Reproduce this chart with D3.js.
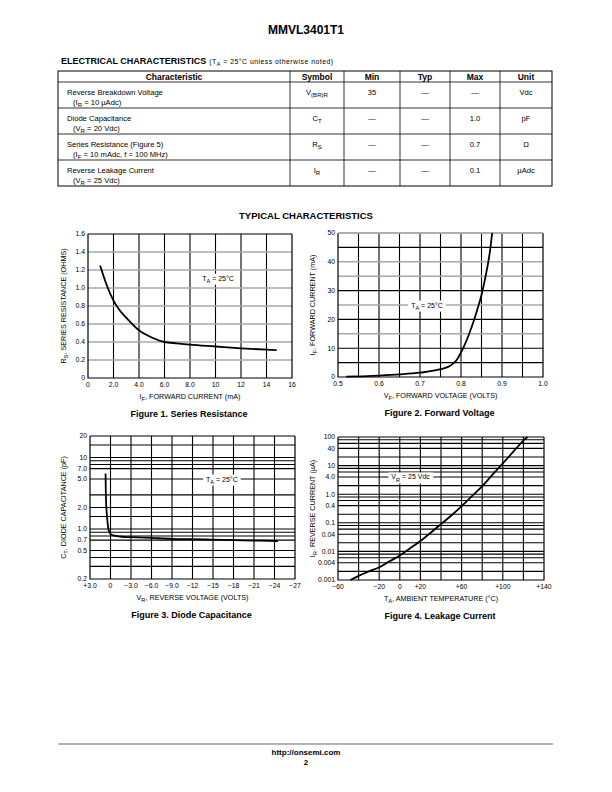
<!DOCTYPE html>
<html><head><meta charset="utf-8">
<script src="https://cdn.jsdelivr.net/npm/d3@7"></script>
<style>
body{margin:0;background:#fff}
svg{display:block}
text{font-family:"Liberation Sans",Arial,Helvetica,sans-serif;fill:#000}
.nar{font-family:"Liberation Sans Narrow","Liberation Sans",Arial,sans-serif}
</style>
</head><body>
<svg id="page" width="612" height="792"></svg>
<script>
// ---------------- DATA ----------------
const pageTitle = "MMVL3401T1";
const tableColumns = ["Characteristic", "Symbol", "Min", "Typ", "Max", "Unit"];
const tableCharacteristic = ["Reverse Breakdown Voltage", "Diode Capacitance", "Series Resistance (Figure 5)", "Reverse Leakage Current"];
const tableCondition = ["(I_{R} = 10 µAdc)", "(V_{R} = 20 Vdc)", "(I_{F} = 10 mAdc, f = 100 MHz)", "(V_{R} = 25 Vdc)"];
const tableSymbol = ["V_{(BR)R}", "C_{T}", "R_{S}", "I_{R}"];
const tableMin = ["35", "—", "—", "—"];
const tableTyp = ["—", "—", "—", "—"];
const tableMax = ["—", "1.0", "0.7", "0.1"];
const tableUnit = ["Vdc", "pF", "Ω", "µAdc"];

// Figure 1: Series Resistance
const fig1Current = [0.95, 1.5, 2.0, 2.5, 3.0, 4.0, 5.0, 6.0, 7.0, 8.0, 10, 12, 14, 14.8];
const fig1Resistance = [1.25, 1.02, 0.86, 0.75, 0.67, 0.53, 0.45, 0.40, 0.385, 0.37, 0.35, 0.33, 0.315, 0.31];
const fig1XTicks = [0, 2, 4, 6, 8, 10, 12, 14, 16];
const fig1XLabels = ["0", "2.0", "4.0", "6.0", "8.0", "10", "12", "14", "16"];
const fig1YTicks = [0, 0.2, 0.4, 0.6, 0.8, 1.0, 1.2, 1.4, 1.6];
const fig1YLabels = ["0", "0.2", "0.4", "0.6", "0.8", "1.0", "1.2", "1.4", "1.6"];

// Figure 2: Forward Voltage
const fig2Voltage = [0.52, 0.55, 0.60, 0.65, 0.70, 0.75, 0.775, 0.79, 0.80, 0.81, 0.82, 0.83, 0.84, 0.85, 0.86, 0.87, 0.876];
const fig2Current = [0.1, 0.2, 0.5, 0.9, 1.5, 2.7, 4.0, 6.0, 8.5, 11.5, 15, 19, 23.5, 28.5, 35, 43, 50];
const fig2XTicks = [0.5, 0.6, 0.7, 0.8, 0.9, 1.0];
const fig2XLabels = ["0.5", "0.6", "0.7", "0.8", "0.9", "1.0"];
const fig2XGrid = [0.55, 0.6, 0.65, 0.7, 0.75, 0.8, 0.85, 0.9, 0.95];
const fig2YTicks = [0, 10, 20, 30, 40, 50];
const fig2YLabels = ["0", "10", "20", "30", "40", "50"];
const fig2YGridDark = [5, 10, 20, 30, 45];
const fig2YGridLight = [15, 25, 35, 40, 50];

// Figure 3: Diode Capacitance
const fig3Voltage = [0.72, 0.70, 0.66, 0.57, 0.45, 0.33, 0.15, -0.16, -0.8, -1.6, -3, -6, -9, -12, -15, -18, -21, -24.5];
const fig3Capacitance = [6.0, 4.0, 2.6, 1.77, 1.3, 1.03, 0.9, 0.83, 0.8, 0.78, 0.77, 0.75, 0.73, 0.72, 0.71, 0.70, 0.69, 0.68];
const fig3XTicks = [3, 0, -3, -6, -9, -12, -15, -18, -21, -24, -27];
const fig3XLabels = ["+3.0", "0", "−3.0", "−6.0", "−9.0", "−12", "−15", "−18", "−21", "−24", "−27"];
const fig3YTicks = [20, 10, 7, 5, 2, 1, 0.7, 0.5, 0.2];
const fig3YLabels = ["20", "10", "7.0", "5.0", "2.0", "1.0", "0.7", "0.5", "0.2"];
const fig3YGrid = [15, 10, 9, 8, 7, 5, 3, 2, 1.5, 1, 0.9, 0.8, 0.7, 0.5, 0.4, 0.3];

// Figure 4: Leakage Current
const fig4Temp = [-48, -40, -30, -20, -10, 0, 10, 20, 30, 40, 50, 60, 70, 80, 90, 100, 110, 120, 124];
const fig4Current = [0.001, 0.0014, 0.002, 0.0028, 0.0045, 0.0072, 0.013, 0.023, 0.045, 0.09, 0.18, 0.38, 0.85, 1.9, 4.8, 12, 30, 75, 100];
const fig4XTicks = [-60, -20, 0, 20, 60, 100, 140];
const fig4XLabels = ["−60", "−20", "0", "+20", "+60", "+100", "+140"];
const fig4XGrid = [-40, -20, 0, 20, 40, 60, 80, 100, 120];
const fig4YTicks = [100, 40, 10, 4, 1, 0.4, 0.1, 0.04, 0.01, 0.004, 0.001];
const fig4YLabels = ["100", "40", "10", "4.0", "1.0", "0.4", "0.1", "0.04", "0.01", "0.004", "0.001"];
const fig4YGrid = [80, 60, 40, 20, 10, 8, 6, 4, 2, 1, 0.8, 0.6, 0.4, 0.2, 0.1, 0.08, 0.06, 0.04, 0.02, 0.01, 0.008, 0.006, 0.004, 0.002];

// ---------------- HELPERS ----------------
const svg = d3.select("#page");
svg.append("rect").attr("width", 612).attr("height", 792).attr("fill", "#fff");

function rich(sel, str, fs) {
  const parts = str.split(/_\{([^}]*)\}/);
  let shifted = false;
  parts.forEach((p, i) => {
    if (p === "") return;
    const t = sel.append("tspan").text(p);
    if (i % 2 === 1) {
      t.attr("font-size", fs * 0.8).attr("dy", shifted ? 0 : fs * 0.3);
      shifted = true;
    } else {
      if (shifted) { t.attr("dy", -fs * 0.3); shifted = false; }
    }
  });
  return sel;
}
function txt(parent, x, y, str, opt = {}) {
  const fs = opt.size || 8;
  const t = parent.append("text").attr("x", x).attr("y", y)
    .attr("font-size", fs)
    .attr("text-anchor", opt.anchor || "start")
    .attr("font-weight", opt.bold ? "bold" : "normal");
  if (opt.cls) t.attr("class", opt.cls);
  if (opt.rotate) t.attr("transform", `rotate(${opt.rotate},${x},${y})`);
  rich(t, str, fs);
  return t;
}

// ---------------- HEADER ----------------
txt(svg, 306, 34, pageTitle, {size: 12, bold: true, anchor: "middle"});
const hd = txt(svg, 61, 64, "ELECTRICAL CHARACTERISTICS", {size: 9, bold: true});
const hdEnd = 61 + hd.node().getComputedTextLength();
txt(svg, hdEnd + 3, 64, "(T_{A} = 25°C unless otherwise noted)", {size: 6.8})
  .attr("textLength", 333 - hdEnd - 3).attr("lengthAdjust", "spacing");

// ---------------- TABLE ----------------
const colEdges = [58, 290, 344, 400, 450, 500, 552];
const rowEdges = [71, 82, 108, 134, 160, 186];
const tg = svg.append("g");
tg.append("rect").attr("x", colEdges[0]).attr("y", rowEdges[0])
  .attr("width", colEdges[6] - colEdges[0]).attr("height", rowEdges[5] - rowEdges[0])
  .attr("fill", "none").attr("stroke", "#000").attr("stroke-width", 1);
colEdges.slice(1, 6).forEach(x => tg.append("line").attr("x1", x).attr("x2", x)
  .attr("y1", rowEdges[0]).attr("y2", rowEdges[5]).attr("stroke", "#000").attr("stroke-width", 0.8));
rowEdges.slice(1, 5).forEach(y => tg.append("line").attr("x1", colEdges[0]).attr("x2", colEdges[6])
  .attr("y1", y).attr("y2", y).attr("stroke", "#000").attr("stroke-width", 0.8));
const colMid = i => (colEdges[i] + colEdges[i + 1]) / 2;
tableColumns.forEach((c, i) => txt(tg, colMid(i), 79.5, c, {size: 8.5, bold: true, anchor: "middle", cls: "nar"}));
const cellCols = [tableSymbol, tableMin, tableTyp, tableMax, tableUnit];
tableCharacteristic.forEach((c, r) => {
  const top = rowEdges[r + 1];
  txt(tg, 67, top + 12.5, c, {size: 7.6});
  txt(tg, 73, top + 22.5, tableCondition[r], {size: 7.6});
  cellCols.forEach((col, k) => txt(tg, colMid(k + 1), top + 12.5, col[r], {size: 7.6, anchor: "middle"}));
});

// ---------------- TYPICAL ----------------
txt(svg, 306, 219, "TYPICAL CHARACTERISTICS", {size: 9.5, bold: true, anchor: "middle"});

// ---------------- CHARTS ----------------
function chart(cfg) {
  const g = svg.append("g");
  const {x0, x1, y0, y1} = cfg.box;
  const xs = d3.scaleLinear().domain(cfg.xDomain).range([x0, x1]);
  const ys = (cfg.yLog ? d3.scaleLog() : d3.scaleLinear()).domain(cfg.yDomain).range([y1, y0]);
  g.selectAll(null).data(cfg.xGrid).join("line")
    .attr("x1", d => xs(d)).attr("x2", d => xs(d)).attr("y1", y0).attr("y2", y1)
    .attr("stroke", "#000").attr("stroke-width", 1.1);
  cfg.yGrid.forEach(gr => {
    g.selectAll(null).data(gr.values).join("line")
      .attr("x1", x0).attr("x2", x1).attr("y1", d => ys(d)).attr("y2", d => ys(d))
      .attr("stroke", gr.color).attr("stroke-width", gr.width);
  });
  g.append("path").attr("d", `M${x0},${y0}V${y1}H${x1}V${y0}`).attr("fill", "none")
    .attr("stroke", "#000").attr("stroke-width", 1.2);
  g.append("line").attr("x1", x0).attr("x2", x1).attr("y1", y0).attr("y2", y0)
    .attr("stroke", cfg.topColor || "#000").attr("stroke-width", cfg.topColor ? 1.6 : 1.2);
  const ax = xs(cfg.note.x), ay = ys(cfg.note.y);
  const nt = txt(g, ax, ay + 2.5, cfg.note.text, {size: 7, anchor: "middle", cls: "nar"});
  const bb = nt.node().getBBox();
  g.insert("rect", function () { return nt.node(); })
    .attr("x", bb.x - 3).attr("y", bb.y - 1).attr("width", bb.width + 6).attr("height", bb.height + 2)
    .attr("fill", "#fff");
  const pts = cfg.xs.map((v, i) => [v, cfg.ys[i]]);
  g.append("path").datum(pts)
    .attr("d", d3.line().x(d => xs(d[0])).y(d => ys(d[1])).curve(d3.curveMonotoneX))
    .attr("fill", "none").attr("stroke", "#000").attr("stroke-width", 1.8);
  cfg.xTicks.forEach((v, i) => txt(g, xs(v), y1 + 8.5, cfg.xLabels[i], {size: 6.8, anchor: "middle", cls: "nar"}));
  cfg.yTicks.forEach((v, i) => txt(g, x0 - 3, ys(v) + 2.4, cfg.yLabels[i], {size: 6.8, anchor: "end", cls: "nar"}));
  txt(g, (x0 + x1) / 2, y1 + 21, cfg.xTitle, {size: 7.2, anchor: "middle", cls: "nar"});
  txt(g, cfg.yTitleX, (y0 + y1) / 2, cfg.yTitle, {size: 7.2, anchor: "middle", rotate: -90, cls: "nar"});
  txt(g, (x0 + x1) / 2 - 1, y1 + 39, cfg.caption, {size: 9, bold: true, anchor: "middle"});
}

chart({
  box: {x0: 88, x1: 292, y0: 234, y1: 378},
  xDomain: [0, 16], yDomain: [0, 1.6],
  xGrid: fig1XTicks.slice(1, -1),
  yGrid: [{values: fig1YTicks.slice(1, -1), color: "#a8a8a8", width: 1.5}],
  xs: fig1Current, ys: fig1Resistance,
  xTicks: fig1XTicks, xLabels: fig1XLabels, yTicks: fig1YTicks, yLabels: fig1YLabels,
  note: {x: 10.2, y: 1.11, text: "T_{A} = 25°C"},
  xTitle: "I_{F}, FORWARD CURRENT (mA)", yTitle: "R_{S}, SERIES RESISTANCE (OHMS)", yTitleX: 66,
  caption: "Figure 1. Series Resistance"
});
chart({
  box: {x0: 338, x1: 543, y0: 233, y1: 377},
  xDomain: [0.5, 1.0], yDomain: [0, 50],
  xGrid: fig2XGrid,
  yGrid: [{values: fig2YGridLight, color: "#a8a8a8", width: 1.5}, {values: fig2YGridDark, color: "#000", width: 1.1}],
  topColor: "#a8a8a8",
  xs: fig2Voltage, ys: fig2Current,
  xTicks: fig2XTicks, xLabels: fig2XLabels, yTicks: fig2YTicks, yLabels: fig2YLabels,
  note: {x: 0.717, y: 25, text: "T_{A} = 25°C"},
  xTitle: "V_{F}, FORWARD VOLTAGE (VOLTS)", yTitle: "I_{F}, FORWARD CURRENT (mA)", yTitleX: 315,
  caption: "Figure 2. Forward Voltage"
});
chart({
  box: {x0: 90, x1: 295, y0: 436, y1: 579},
  xDomain: [3, -27], yDomain: [0.2, 20], yLog: true,
  xGrid: fig3XTicks.slice(1, -1),
  yGrid: [{values: fig3YGrid, color: "#000", width: 1.1}],
  xs: fig3Voltage, ys: fig3Capacitance,
  xTicks: fig3XTicks, xLabels: fig3XLabels, yTicks: fig3YTicks, yLabels: fig3YLabels,
  note: {x: -16.3, y: 5, text: "T_{A} = 25°C"},
  xTitle: "V_{R}, REVERSE VOLTAGE (VOLTS)", yTitle: "C_{T}, DIODE CAPACITANCE (pF)", yTitleX: 66,
  caption: "Figure 3. Diode Capacitance"
});
chart({
  box: {x0: 338, x1: 544, y0: 437, y1: 580},
  xDomain: [-60, 140], yDomain: [0.001, 100], yLog: true,
  xGrid: fig4XGrid,
  yGrid: [{values: fig4YGrid, color: "#000", width: 1.1}],
  xs: fig4Temp, ys: fig4Current,
  xTicks: fig4XTicks, xLabels: fig4XLabels, yTicks: fig4YTicks, yLabels: fig4YLabels,
  note: {x: 10.5, y: 4, text: "V_{R} = 25 Vdc"},
  xTitle: "T_{A}, AMBIENT TEMPERATURE (°C)", yTitle: "I_{R}, REVERSE CURRENT (µA)", yTitleX: 315,
  caption: "Figure 4. Leakage Current"
});

// ---------------- FOOTER ----------------
svg.append("line").attr("x1", 58).attr("x2", 553).attr("y1", 744).attr("y2", 744)
  .attr("stroke", "#b4b4b4").attr("stroke-width", 2);
txt(svg, 306, 754.5, "http://onsemi.com", {size: 8, bold: true, anchor: "middle"});
txt(svg, 306, 764.5, "2", {size: 8, bold: true, anchor: "middle"});
</script>
</body></html>
